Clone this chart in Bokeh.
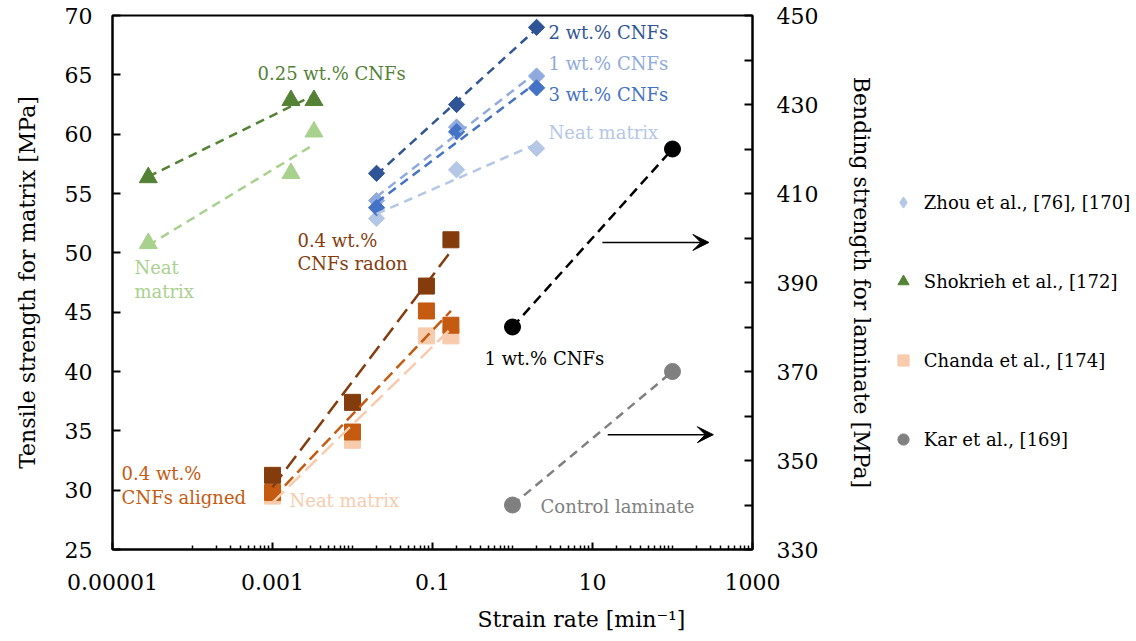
import numpy as np
from bokeh.plotting import figure
from bokeh.models import (LinearAxis, Range1d, FixedTicker, Legend, LegendItem,
                          Arrow, VeeHead, Title, CustomJSTickFormatter)
from bokeh.core.properties import value
from bokeh.embed import file_html
from bokeh.resources import INLINE

FONT = "DejaVu Serif"

# ---------------- data ----------------
# Shokrieh et al. [172] (triangles, left axis)
shok_x = [2.8e-5, 1.7e-3, 3.3e-3]
shok_cnf = [56.35, 62.85, 62.85]
shok_neat = [50.8, 56.7, 60.2]

# Zhou et al. [76], [170] (diamonds, left axis)
zhou_x = [0.02, 0.2, 2.0]
zhou_2wt = [56.7, 62.5, 69.0]
zhou_1wt = [54.4, 60.6, 64.9]
zhou_3wt = [53.8, 60.2, 63.9]
zhou_neat = [52.9, 57.0, 58.8]

# Chanda et al. [174] (squares, left axis)
chanda_x = [0.001, 0.01, 0.084, 0.17]
chanda_radon = [31.25, 37.4, 47.2, 51.1]
chanda_aligned = [29.8, 34.9, 45.1, 43.9]
chanda_neat = [29.5, 34.2, 43.0, 43.0]

# Kar et al. [169] (circles, right axis)
kar_x = [1, 100]
kar_1wt = [380, 420]
kar_control = [340, 370]

# tick labels
x_major = [1e-5, 1e-3, 1e-1, 10, 1000]
y_left_ticks = list(range(25, 71, 5))
y_right_ticks = list(range(330, 451, 20))
y_right_minor = list(range(340, 441, 20))

# annotation texts (left-axis data coordinates)
ann_text = ["0.25 wt.% CNFs", "Neat", "matrix", "0.4 wt.%", "CNFs radon",
            "0.4 wt.%", "CNFs aligned", "Neat matrix", "1 wt.% CNFs", "Control laminate",
            "2 wt.% CNFs", "1 wt.% CNFs", "3 wt.% CNFs", "Neat matrix"]
ann_x = [6.5e-4, 1.88e-5, 1.88e-5, 2.05e-3, 2.05e-3,
         1.3e-5, 1.3e-5, 1.63e-3, 0.447, 2.24,
         2.82, 2.82, 2.82, 2.82]
ann_y = [65.1, 48.8, 46.7, 51.05, 49.1,
         31.4, 29.4, 29.1, 41.1, 28.6,
         68.6, 65.95, 63.35, 60.1]
ann_color = ["#548235", "#A9D18E", "#A9D18E", "#843C0C", "#843C0C",
             "#C55A11", "#C55A11", "#F8CBAD", "#000000", "#7F7F7F",
             "#2F5597", "#8FAADC", "#4472C4", "#B4C7E7"]

# arrows (right-axis data coordinates)
arrow_x0 = [13.3, 15.5]
arrow_x1 = [285, 324]
arrow_y = [399, 355.8]

# ---------------- figure ----------------
p = figure(x_axis_type="log", x_range=Range1d(1e-5, 1e3), y_range=Range1d(25, 70),
           frame_width=640, frame_height=534,
           min_border_left=112, min_border_right=384, min_border_top=15, min_border_bottom=92,
           output_backend="svg", toolbar_location=None, background_fill_color="white",
           border_fill_color="white")
p.extra_y_ranges = {"right": Range1d(330, 450)}
p.xgrid.visible = False
p.ygrid.visible = False
p.outline_line_color = "black"
p.outline_line_width = 2
p.outline_line_alpha = 1

minor = []
for k in range(-4, 3):
    for m in range(1, 10):
        v = m * 10.0 ** k
        if not any(abs(v - t) / t < 1e-9 for t in x_major):
            minor.append(v)

xa = p.xaxis[0]
xa.ticker = FixedTicker(ticks=x_major, minor_ticks=minor)
xa.formatter = CustomJSTickFormatter(code="""
    if (tick >= 1) { return tick.toFixed(0); }
    return tick.toFixed(Math.round(-Math.log10(tick)));
""")
ya = p.yaxis[0]
ya.ticker = FixedTicker(ticks=y_left_ticks)
ya.axis_label = "Tensile strength for matrix [MPa]"
ya.axis_label_standoff = 22

ra = LinearAxis(y_range_name="right",
                ticker=FixedTicker(ticks=y_right_ticks, minor_ticks=y_right_minor),
                axis_label="Bending strength for laminate [MPa]")
ra.axis_label_standoff = 28
p.add_layout(ra, "right")

for ax in (xa, ya, ra):
    ax.axis_line_color = "black"
    ax.axis_line_width = 2
    ax.major_tick_line_color = "black"
    ax.minor_tick_line_color = "black"
    ax.major_tick_line_width = 2
    ax.minor_tick_line_width = 1.5
    ax.major_tick_out = 0
    ax.minor_tick_out = 0
    ax.major_tick_in = 8
    ax.major_label_text_font = FONT
    ax.major_label_text_font_size = "22px"
    ax.major_label_text_color = "black"
    ax.axis_label_text_font = FONT
    ax.axis_label_text_font_size = "22px"
    ax.axis_label_text_font_style = "normal"
    ax.axis_label_text_color = "black"
xa.major_tick_in = 7
xa.minor_tick_in = 4
ya.minor_tick_in = 0
ra.minor_tick_in = 8
ra.minor_tick_line_width = 2
xa.major_label_standoff = 24
ya.major_label_standoff = 20
ra.major_label_standoff = 24

p.add_layout(Title(text="Strain rate [min\u207b\u00b9]", align="left", offset=365,
                   text_font=FONT, text_font_size="22px", text_font_style="normal",
                   text_color="black", standoff=25), "below")

# ---------------- markers ----------------
DIA = dict(marker="square", angle=np.pi / 4, size=11.5)
p.scatter(zhou_x, zhou_neat, color="#B4C7E7", **DIA)
p.scatter(zhou_x, zhou_1wt, color="#8FAADC", **DIA)
p.scatter(zhou_x, zhou_3wt, color="#4472C4", **DIA)
p.scatter(zhou_x, zhou_2wt, color="#2F5597", **DIA)
# legend proxy for the diamond series (zero-size, not visible in the frame)
r_zhou_leg = p.scatter(zhou_x, zhou_neat, marker="diamond", size=0, color="#B4C7E7")

r_shok = p.scatter(shok_x, shok_cnf, marker="triangle", size=18, color="#548235")
p.scatter(shok_x, shok_neat, marker="triangle", size=18, color="#A9D18E")

r_chanda = p.scatter(chanda_x, chanda_neat, marker="square", size=16, color="#F8CBAD")
p.scatter(chanda_x, chanda_aligned, marker="square", size=16, color="#C55A11")
p.scatter(chanda_x, chanda_radon, marker="square", size=16, color="#843C0C")

r_kar = p.scatter(kar_x, kar_control, marker="circle", size=16, color="#808080", y_range_name="right")
p.scatter(kar_x, kar_1wt, marker="circle", size=16, color="#000000", y_range_name="right")


# ---------------- logarithmic trendlines ----------------
def trend(xs, ys, color, dash, y_range_name="default"):
    lx = np.log10(np.asarray(xs, dtype=float))
    a, b = np.polyfit(lx, np.asarray(ys, dtype=float), 1)
    ends = np.array([lx.min(), lx.max()])
    p.line(10 ** ends, a * ends + b, line_color=color, line_width=2.5,
           line_dash=dash, y_range_name=y_range_name)


trend(shok_x, shok_cnf, "#548235", "9 6")
trend(shok_x, shok_neat, "#A9D18E", "9 6")
trend(zhou_x, zhou_neat, "#B4C7E7", "9 6")
trend(zhou_x, zhou_1wt, "#8FAADC", "9 6")
trend(zhou_x, zhou_3wt, "#4472C4", "9 6")
trend(zhou_x, zhou_2wt, "#2F5597", "9 6")
trend(chanda_x, chanda_neat, "#F8CBAD", "16 7")
trend(chanda_x, chanda_aligned, "#C55A11", "12 6")
trend(chanda_x, chanda_radon, "#843C0C", "16 7")
trend(kar_x, kar_1wt, "#000000", "10 6", "right")
trend(kar_x, kar_control, "#808080", "9 6", "right")

# ---------------- annotations ----------------
p.text(ann_x, ann_y, text=ann_text, text_color=ann_color,
       text_font=value(FONT), text_font_size="18px",
       text_align="left", text_baseline="middle")

for x0, x1, yy in zip(arrow_x0, arrow_x1, arrow_y):
    p.add_layout(Arrow(x_start=x0, y_start=yy, x_end=x1, y_end=yy, y_range_name="right",
                       line_color="black", line_width=1.5,
                       end=VeeHead(size=16, fill_color="black", line_color="black", line_width=1)))

legend = Legend(items=[
    LegendItem(label="Zhou et al., [76], [170]", renderers=[r_zhou_leg]),
    LegendItem(label="Shokrieh et al., [172]", renderers=[r_shok]),
    LegendItem(label="Chanda et al., [174]", renderers=[r_chanda]),
    LegendItem(label="Kar et al., [169]", renderers=[r_kar]),
], location=(-224, 96), orientation="vertical")
legend.background_fill_alpha = 0
legend.border_line_alpha = 0
legend.padding = 0
legend.margin = 0
legend.glyph_width = 28
legend.glyph_height = 28
legend.label_height = 28
legend.spacing = 51
legend.label_standoff = 7
legend.label_text_font = "'DejaVu Serif', serif"
legend.label_text_font_size = "18px"
legend.label_text_font_style = "normal"
legend.label_text_color = "black"
legend.label_text_baseline = "middle"
p.add_layout(legend, "right")

open("out.html", "w").write(file_html(p, INLINE))
